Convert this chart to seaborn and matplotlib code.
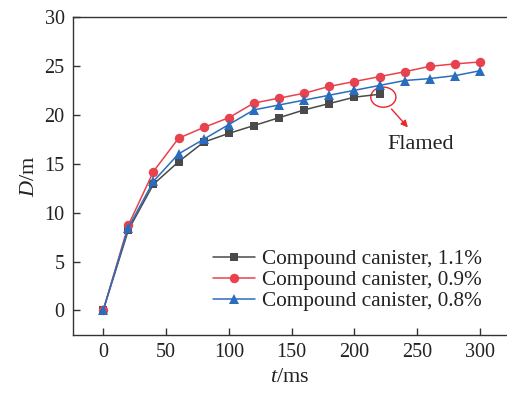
import matplotlib
matplotlib.use("Agg")
import matplotlib.pyplot as plt
import seaborn as sns
import pandas as pd
from matplotlib.patches import Ellipse

sns.set_style("ticks")
plt.rcParams['font.family'] = ['Liberation Serif', 'DejaVu Serif']
plt.rcParams['mathtext.fontset'] = 'custom'
plt.rcParams['mathtext.rm'] = 'Liberation Serif'
plt.rcParams['mathtext.it'] = 'Liberation Serif:italic'

t_full = [0, 20, 40, 60, 80, 100, 120, 140, 160, 180, 200, 220, 240, 260, 280, 300]
t_short = [0, 20, 40, 60, 80, 100, 120, 140, 160, 180, 200, 220]
d_11 = [0, 8.2, 12.9, 15.2, 17.2, 18.1, 18.9, 19.7, 20.5, 21.15, 21.8, 22.1]
d_09 = [0, 8.7, 14.2, 17.6, 18.7, 19.7, 21.2, 21.7, 22.2, 22.9, 23.4, 23.9, 24.4, 24.95, 25.2, 25.4]
d_08 = [0, 8.45, 13.2, 16.0, 17.5, 19.0, 20.5, 21.0, 21.5, 22.0, 22.5, 23.0, 23.5, 23.7, 24.0, 24.5]
labels = ["Compound canister, 1.1%", "Compound canister, 0.9%", "Compound canister, 0.8%"]
colors = ["#4a4a4a", "#e8424e", "#2a6dbd"]
markers = ["s", "o", "^"]

df = pd.concat([
    pd.DataFrame({"t": t_short, "D": d_11, "series": labels[0]}),
    pd.DataFrame({"t": t_full, "D": d_09, "series": labels[1]}),
    pd.DataFrame({"t": t_full, "D": d_08, "series": labels[2]}),
])

fig = plt.figure(figsize=(5.07, 3.94), dpi=100)
ax = fig.add_axes([0.144, 0.150, 0.856, 0.807])

sns.lineplot(data=df, x="t", y="D", hue="series", style="series",
             palette=dict(zip(labels, colors)), markers=dict(zip(labels, markers)),
             dashes=False, markersize=6.5, markeredgewidth=0, linewidth=1.1, ax=ax)
msizes = {"s": 6.0, "o": 6.8, "^": 7.5}
for ln in ax.lines:
    m = ln.get_marker()
    if m in msizes:
        ln.set_markersize(msizes[m])

ax.set_xlim(-24, 321.4)
ax.set_ylim(-2.5, 30)
ax.set_xticks([0, 50, 100, 150, 200, 250, 300])
ax.set_yticks([0, 5, 10, 15, 20, 25, 30])
ax.tick_params(direction='in', length=5, width=1, labelsize=14.5, colors='#333333', labelcolor='#222222', pad=6)
for s in ['top', 'left', 'bottom']:
    ax.spines[s].set_color('#333333')
    ax.spines[s].set_linewidth(1.0)
ax.spines['right'].set_visible(False)
ax.set_xlabel("$\\it{t}$/ms", fontsize=16, color='#222222', labelpad=4)
ax.set_ylabel("$\\it{D}$/m", fontsize=16, color='#222222', labelpad=4)

ax.add_patch(Ellipse((223, 21.8), 20, 2.05, fill=False, edgecolor='#e8262e', linewidth=1.0))
ax.annotate("", xy=(244, 18.5), xytext=(228, 20.8),
            arrowprops=dict(arrowstyle="-|>", color='#e8262e', lw=1.0, mutation_scale=10))
ax.text(253, 17.0, "Flamed", fontsize=16, ha='center', va='center', color='#222222')

leg = ax.legend(loc='lower left', bbox_to_anchor=(0.322, 0.075), frameon=False,
                fontsize=15.3, handlelength=1.97, handletextpad=0.37, labelspacing=0.05,
                borderaxespad=0, borderpad=0)
for t in leg.get_texts():
    t.set_color('#222222')

fig.savefig("out.png", dpi=100)
